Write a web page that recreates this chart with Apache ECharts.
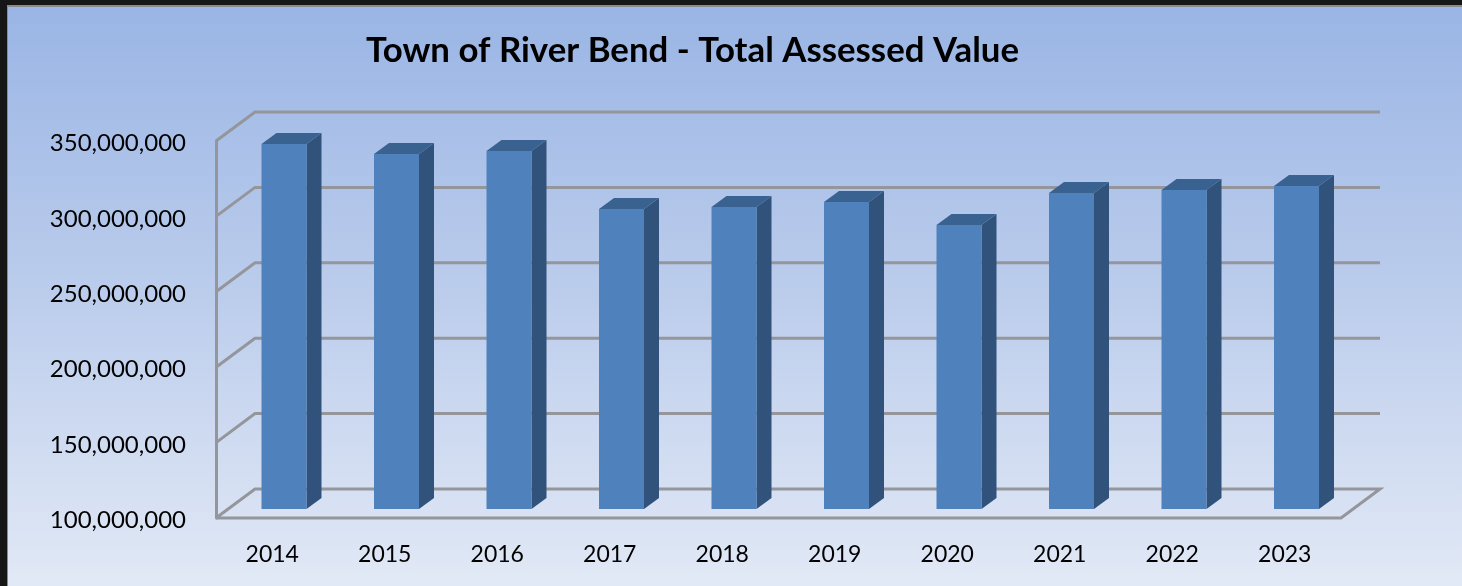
<!DOCTYPE html>
<html>
<head>
<meta charset="utf-8">
<style>html,body{margin:0;padding:0;background:#161616}#c{width:1462px;height:586px}</style>
<script src="https://cdn.jsdelivr.net/npm/echarts@6/dist/echarts.min.js"></script>
</head>
<body>
<div id="c"></div>
<script>
const title = 'Town of River Bend - Total Assessed Value';
const years = ['2014','2015','2016','2017','2018','2019','2020','2021','2022','2023'];
const assessed = [342000000,335400000,337400000,299000000,300300000,303600000,288300000,309500000,311500000,314200000];
const yTicks = [100000000,150000000,200000000,250000000,300000000,350000000];
const yMin = 100000000, yMax = 350000000, yStep = 50000000;

const WALL_DX = 39, WALL_DY = -29;      // depth of the chart box
const BAR_DX = -10.75, BAR_W = 45;      // bar's front face relative to band centre
const BAR_LIFT = -9, SIDE_DX = 15, SIDE_DY = -11;
const GRID_COLOR = '#94969b';

const chart = echarts.init(document.getElementById('c'), null, {renderer:'canvas'});

function renderWall(params, api){
  const cs = params.coordSys;
  const p = api.coord([0, api.value(1)]);
  const y = p[1];
  const isFloor = api.value(1) === yMin;
  const ls = {stroke:GRID_COLOR, lineWidth:3, fill:null};
  const points = [[cs.x,y],[cs.x+WALL_DX,y+WALL_DY],[cs.x+cs.width+WALL_DX,y+WALL_DY]];
  if (isFloor) points.push([cs.x+cs.width,y],[cs.x,y]);
  return {type:'polyline', shape:{points}, style:ls, z2:1};
}
function renderBar(params, api){
  const top = api.coord([api.value(0), api.value(1)]);
  const base = api.coord([api.value(0), yMin]);
  const x0 = top[0]+BAR_DX, x1 = x0+BAR_W;
  const y0 = top[1]+BAR_LIFT, y1 = base[1]+BAR_LIFT;
  return {type:'group', children:[
    {type:'polygon', shape:{points:[[x1,y0],[x1+SIDE_DX,y0+SIDE_DY],[x1+SIDE_DX,y1+SIDE_DY],[x1,y1]]}, style:{fill:'#31527b'}},
    {type:'polygon', shape:{points:[[x0,y0],[x0+SIDE_DX,y0+SIDE_DY],[x1+SIDE_DX,y0+SIDE_DY],[x1,y0]]}, style:{fill:'#3a6291'}},
    {type:'rect', shape:{x:x0,y:y0,width:BAR_W,height:y1-y0}, style:{fill:'#4f81bd'}}
  ]};
}

chart.setOption({
  animation:false,
  backgroundColor:'#161616',
  graphic:[
    {type:'rect', z:-10, shape:{x:7,y:5,width:1455,height:581}, style:{fill:'#8a8a8a'}},
    {type:'rect', z:-9, shape:{x:8,y:7,width:1454,height:579}, style:{fill:{type:'linear',x:0,y:0,x2:0,y2:1,colorStops:[
      {offset:0,color:'#9ab5e5'},{offset:0.5,color:'#bccdec'},{offset:1,color:'#e2e9f6'}]}}}
  ],
  title:{text:title, left:687.5, top:28, textAlign:'center',
    textStyle:{fontFamily:'Lato',fontWeight:'bold',fontSize:34.8,color:'#000'}},
  grid:{left:216, top:141, width:1125, height:377, containLabel:false},
  xAxis:{type:'category', data:years, axisTick:{show:false}, axisLine:{show:false}, splitLine:{show:false},
    axisLabel:{fontFamily:'Lato',fontSize:23,color:'#000',margin:25}},
  yAxis:{type:'value', min:yMin, max:yMax, interval:yStep,
    axisLine:{show:true,lineStyle:{color:GRID_COLOR,width:3}}, axisTick:{show:false}, splitLine:{show:false},
    axisLabel:{fontFamily:'Lato',fontSize:24,color:'#000',margin:30,verticalAlign:'top',lineHeight:5,
      formatter:v=>v.toString().replace(/\B(?=(\d{3})+$)/g,',')}},
  series:[
    {type:'custom', name:'grid', silent:true, clip:false, coordinateSystem:'cartesian2d', z:1,
     renderItem:renderWall, data:yTicks.map(t=>[0,t]), encode:{x:0,y:1}},
    {type:'custom', name:'Total Assessed Value', clip:false, coordinateSystem:'cartesian2d', z:2,
     renderItem:renderBar, data:assessed.map((v,i)=>[i,v]), encode:{x:0,y:1}}
  ]
});
</script>
</body>
</html>
